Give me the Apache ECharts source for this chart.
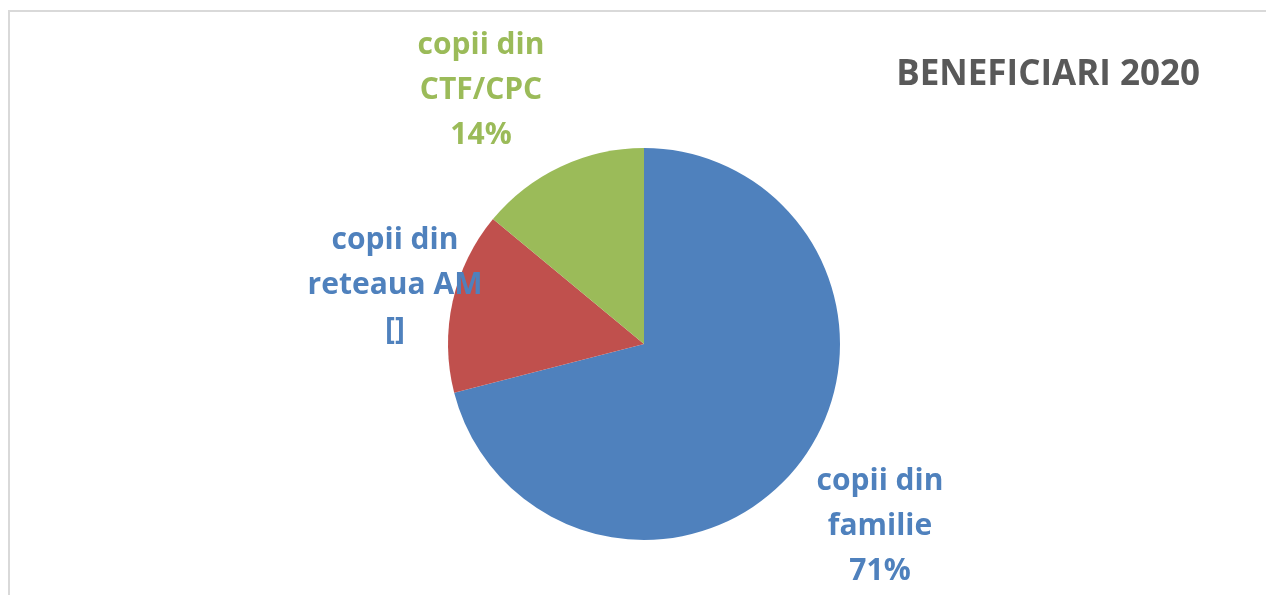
<!DOCTYPE html>
<html>
<head>
<meta charset="utf-8">
<script src="https://cdn.jsdelivr.net/npm/echarts@6/dist/echarts.min.js"></script>
<style>
  html, body { margin: 0; padding: 0; background: #fff; }
  #chart { width: 1266px; height: 595px; }
</style>
</head>
<body>
<div id="chart"></div>
<script>
// date
var categories = ['copii din\nfamilie', 'copii din\nreteaua AM', 'copii din\nCTF/CPC'];
var values = [71, 15, 14];
var colors = ['#4f81bd', '#c0504d', '#9bbb59'];
var labelColors = ['#4f81bd', '#4f81bd', '#9bbb59'];
var hideValue = [false, true, false];   // eticheta "[]" la reteaua AM

// pozitiile etichetelor (centrul textului)
var labelPos = [[880, 526], [395, 285], [481, 90]];

var chart = echarts.init(document.getElementById('chart'));

var pieData = [];
for (var i = 0; i < categories.length; i++) {
    pieData.push({
        name: categories[i],
        value: values[i],
        itemStyle: {color: colors[i]},
        label: {color: labelColors[i]}
    });
}

var option = {
    animation: false,
    backgroundColor: '#fff',
    title: {
        text: 'BENEFICIARI 2020',
        right: 61,
        top: 53,
        textStyle: {
            fontFamily: 'Open Sans',
            fontWeight: 'bold',
            fontSize: 35,
            color: '#595959'
        }
    },
    graphic: [{
        type: 'rect',
        shape: {x: 9, y: 11, width: 1400, height: 700},
        style: {fill: 'none', stroke: '#d9d9d9', lineWidth: 2},
        silent: true
    }],
    series: [{
        type: 'pie',
        center: [644, 344],
        radius: 196,
        startAngle: 90,
        clockwise: true,
        data: pieData,
        label: {
            show: true,
            position: 'outside',
            fontFamily: 'Open Sans',
            fontWeight: 'bold',
            fontSize: 30,
            lineHeight: 45,
            align: 'center',
            formatter: function (p) {
                var v = hideValue[p.dataIndex] ? '[]' : Math.round(p.percent) + '%';
                return p.name + '\n' + v;
            }
        },
        labelLine: {show: false},
        labelLayout: function (params) {
            var pos = labelPos[params.dataIndex];
            return {
                x: pos[0],
                y: pos[1],
                align: 'center',
                verticalAlign: 'middle'
            };
        },
        emphasis: {disabled: true}
    }]
};

chart.setOption(option);
</script>
</body>
</html>
